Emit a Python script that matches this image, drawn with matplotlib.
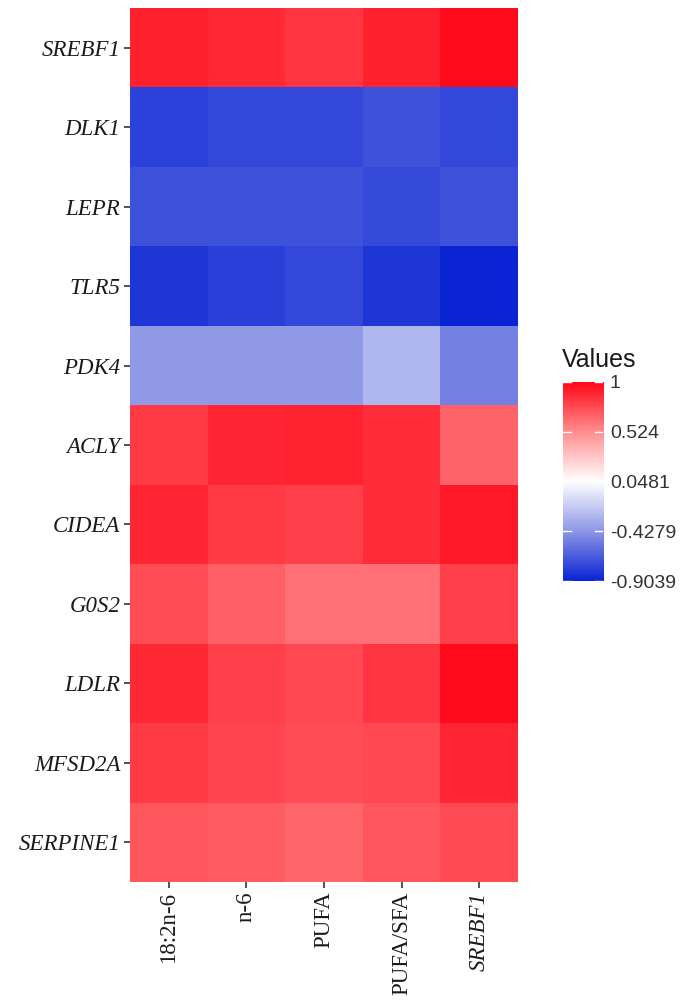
import numpy as np
import matplotlib.pyplot as plt
from matplotlib.colors import LinearSegmentedColormap, Normalize

genes = ["SREBF1", "DLK1", "LEPR", "TLR5", "PDK4", "ACLY", "CIDEA",
         "G0S2", "LDLR", "MFSD2A", "SERPINE1"]
traits = ["18:2n-6", "n-6", "PUFA", "PUFA/SFA", "SREBF1"]

# correlation values, rows = genes (top to bottom), cols = traits
SREBF1 = [0.913, 0.884, 0.841, 0.913, 1.0]
DLK1 = [-0.781, -0.752, -0.752, -0.716, -0.752]
LEPR = [-0.716, -0.716, -0.716, -0.745, -0.716]
TLR5 = [-0.825, -0.789, -0.752, -0.825, -0.9039]
PDK4 = [-0.415, -0.415, -0.415, -0.285, -0.522]
ACLY = [0.827, 0.899, 0.906, 0.870, 0.675]
CIDEA = [0.899, 0.827, 0.805, 0.870, 0.942]
G0S2 = [0.762, 0.690, 0.632, 0.632, 0.805]
LDLR = [0.884, 0.805, 0.776, 0.841, 0.993]
MFSD2A = [0.820, 0.791, 0.762, 0.776, 0.899]
SERPINE1 = [0.730, 0.704, 0.668, 0.730, 0.769]

values = np.array([SREBF1, DLK1, LEPR, TLR5, PDK4, ACLY, CIDEA,
                   G0S2, LDLR, MFSD2A, SERPINE1])

cbar_ticks = [1, 0.524, 0.0481, -0.4279, -0.9039]
vmin, vmax = -0.9039, 1.0

cmap = LinearSegmentedColormap.from_list(
    "bwr_gg",
    [(0.0, "#0A24D4"), (0.25, "#8E97E6"), (0.5, "#FFFFFF"),
     (0.75, "#FF8E90"), (1.0, "#FF0A1A")])
norm = Normalize(vmin=vmin, vmax=vmax)

fig = plt.figure(figsize=(6.82, 10), dpi=100)
ax = fig.add_axes([0.1906, 0.118, 0.569, 0.874])

ax.pcolormesh(np.arange(len(traits) + 1), np.arange(len(genes) + 1),
              values, cmap=cmap, norm=norm)
ax.set_xlim(0, len(traits))
ax.set_ylim(len(genes), 0)

ax.set_yticks(np.arange(len(genes)) + 0.5)
ax.set_yticklabels(genes, family="Liberation Serif", style="italic",
                   fontsize=16.5, color="#1a1a1a")
ax.set_xticks(np.arange(len(traits)) + 0.5)
ax.set_xticklabels(traits, family="Liberation Serif", fontsize=16.5,
                   rotation=90, color="#1a1a1a")
ax.get_xticklabels()[-1].set_style("italic")
ax.tick_params(length=4, width=1.2, color="#333333", pad=3)
for s in ax.spines.values():
    s.set_visible(False)

# colourbar
cax = fig.add_axes([0.8255, 0.419, 0.0587, 0.199])
grad = np.linspace(vmin, vmax, 300).reshape(-1, 1)
cax.imshow(grad, aspect="auto", origin="lower", cmap=cmap, norm=norm,
           extent=[0, 1, vmin, vmax])
cax.set_xlim(0, 1)
cax.set_ylim(vmin, vmax)
for t in cbar_ticks:
    cax.plot([0, 0.2], [t, t], color="white", lw=1)
    cax.plot([0.8, 1], [t, t], color="white", lw=1)
cax.set_xticks([])
cax.yaxis.tick_right()
cax.set_yticks(cbar_ticks)
cax.set_yticklabels([str(t) for t in cbar_ticks], family="Liberation Sans",
                    fontsize=14, color="#333333")
cax.tick_params(axis="y", length=0, pad=5)
for s in cax.spines.values():
    s.set_visible(False)
fig.text(0.824, 0.628, "Values", family="Liberation Sans", fontsize=18,
         color="#1a1a1a", va="bottom")

fig.savefig("out.png", dpi=100)
